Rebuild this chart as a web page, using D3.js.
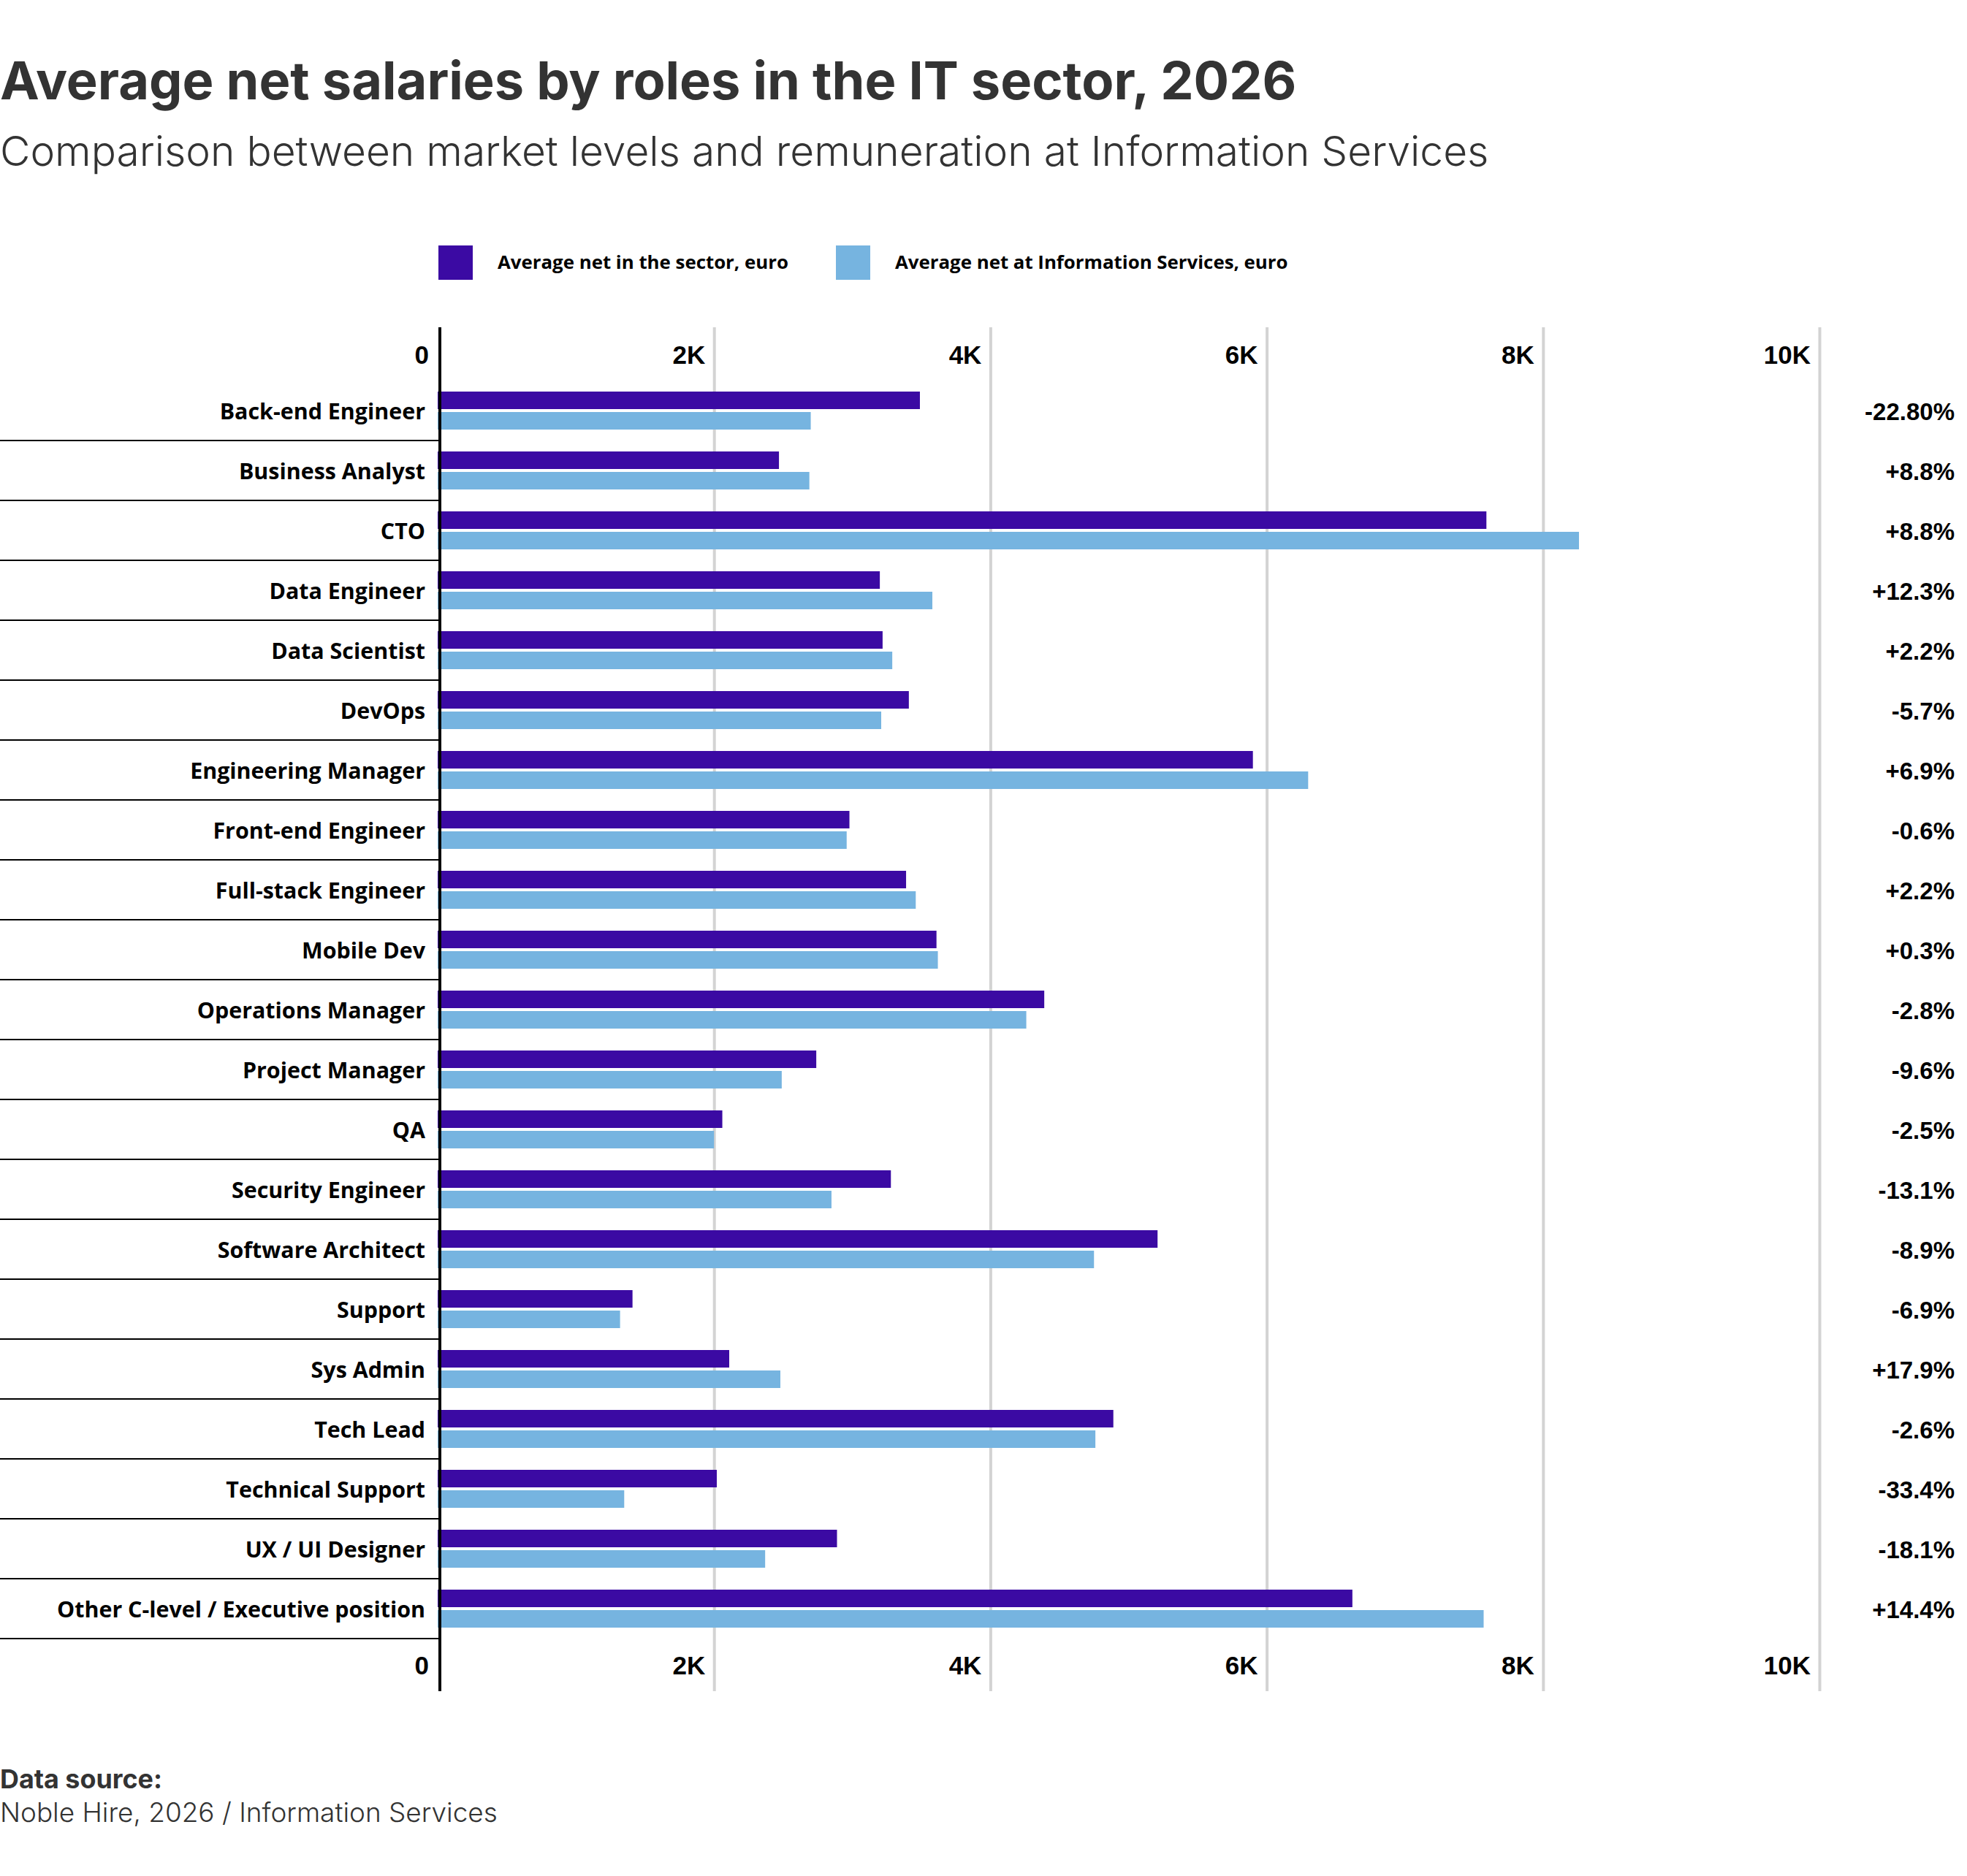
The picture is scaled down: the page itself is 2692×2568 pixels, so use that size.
<!DOCTYPE html>
<html>
<head>
<meta charset="utf-8">
<script src="https://cdn.jsdelivr.net/npm/d3@7"></script>
<style>
  body { margin: 0; background: #fff; }
  svg { display: block; }
</style>
</head>
<body>
<svg></svg>
<script>
// chart data
const categories = [
  "Back-end Engineer", "Business Analyst", "CTO", "Data Engineer", "Data Scientist",
  "DevOps", "Engineering Manager", "Front-end Engineer", "Full-stack Engineer", "Mobile Dev",
  "Operations Manager", "Project Manager", "QA", "Security Engineer", "Software Architect",
  "Support", "Sys Admin", "Tech Lead", "Technical Support", "UX / UI Designer",
  "Other C-level / Executive position"
];
const sectorValues = [3490, 2470, 7590, 3200, 3220, 3410, 5900, 2980, 3390, 3610,
                      4390, 2740, 2060, 3280, 5210, 1410, 2110, 4890, 2020, 2890, 6620];
const infoValues = [2700, 2690, 8260, 3580, 3290, 3210, 6300, 2960, 3460, 3620,
                    4260, 2490, 2000, 2850, 4750, 1320, 2480, 4760, 1350, 2370, 7570];
const diffLabels = ["-22.80%", "+8.8%", "+8.8%", "+12.3%", "+2.2%", "-5.7%", "+6.9%",
                    "-0.6%", "+2.2%", "+0.3%", "-2.8%", "-9.6%", "-2.5%", "-13.1%",
                    "-8.9%", "-6.9%", "+17.9%", "-2.6%", "-33.4%", "-18.1%", "+14.4%"];
const tickValues = [0, 2000, 4000, 6000, 8000, 10000];
const tickLabels = ["0", "2K", "4K", "6K", "8K", "10K"];
const seriesNames = ["Average net in the sector, euro", "Average net at Information Services, euro"];
const seriesColors = ["#3b0aa3", "#76b4e0"];

const title = "Average net salaries by roles in the IT sector, 2026";
const subtitle = "Comparison between market levels and remuneration at Information Services";

const W = 2692, H = 2568;
const svg = d3.select("svg").attr("width", W).attr("height", H);

// font size that makes a text reach a given width
const ctx = document.createElement("canvas").getContext("2d");
function fitSize(text, family, weight, width) {
  ctx.font = weight + " 100px " + family;
  return 100 * width / ctx.measureText(text).width;
}

const headFont = "Inter, 'Noto Sans', sans-serif";
const labelFont = "'Open Sans', 'Noto Sans', sans-serif";
const numFont = "'Liberation Sans', Arial, sans-serif";

// title + subtitle
svg.append("text")
  .attr("x", 0).attr("y", 136)
  .attr("font-family", headFont).attr("font-weight", 700)
  .attr("font-size", fitSize(title, "Inter", 700, 1777))
  .attr("fill", "#333")
  .text(title);

svg.append("text")
  .attr("x", 0).attr("y", 227)
  .attr("font-family", headFont).attr("font-weight", 300)
  .attr("font-size", fitSize(subtitle, "Inter", 300, 2038))
  .attr("fill", "#333")
  .text(subtitle);

// scales
const x = d3.scaleLinear().domain([0, 10000]).range([599, 2490]);
const y = d3.scaleBand().domain(categories).range([520, 2242]).padding(0);
const inner = d3.scaleBand().domain([0, 1]).range([16, 68]).paddingInner(1 / 7);

const gridTop = 448, gridBottom = 2315;

// legend
const legendFs = fitSize(seriesNames[0], "Open Sans", 700, 398);
const legendX = [600, 1144];
const legend = svg.selectAll(".legend")
  .data(seriesNames)
  .enter().append("g")
  .attr("class", "legend")
  .attr("transform", (d, i) => "translate(" + legendX[i] + ",336)");
legend.append("rect")
  .attr("width", 47).attr("height", 47)
  .attr("fill", (d, i) => seriesColors[i]);
legend.append("text")
  .attr("x", 81).attr("y", 32)
  .attr("font-family", labelFont).attr("font-weight", 700)
  .attr("font-size", legendFs)
  .attr("fill", "#000")
  .text(d => d);

// gridlines
svg.append("g")
  .attr("class", "grid")
  .attr("transform", "translate(0," + gridTop + ")")
  .call(d3.axisBottom(x)
    .tickValues(tickValues.slice(1))
    .tickSize(gridBottom - gridTop)
    .tickFormat(""))
  .call(g => g.select(".domain").remove())
  .call(g => g.selectAll("line").attr("stroke", "#d3d3d3").attr("stroke-width", 4));

// bars
const rows = svg.selectAll(".row")
  .data(categories)
  .enter().append("g")
  .attr("class", "row")
  .attr("transform", d => "translate(0," + y(d) + ")");

rows.append("rect")
  .attr("x", x(0))
  .attr("y", inner(0))
  .attr("width", (d, i) => x(sectorValues[i]) - x(0))
  .attr("height", inner.bandwidth())
  .attr("fill", seriesColors[0]);

rows.append("rect")
  .attr("x", x(0))
  .attr("y", inner(1))
  .attr("width", (d, i) => x(infoValues[i]) - x(0))
  .attr("height", inner.bandwidth())
  .attr("fill", seriesColors[1]);

// row separators
rows.append("line")
  .attr("x1", 0).attr("x2", 602)
  .attr("y1", y.bandwidth() + 1).attr("y2", y.bandwidth() + 1)
  .attr("stroke", "#000").attr("stroke-width", 2);

// category labels
const catFs = fitSize(categories[categories.length - 1], "Open Sans", 700, 504);
rows.append("text")
  .attr("x", 582).attr("y", 54)
  .attr("text-anchor", "end")
  .attr("font-family", labelFont).attr("font-weight", 700)
  .attr("font-size", catFs)
  .attr("fill", "#000")
  .text(d => d);

// difference labels
rows.append("text")
  .attr("x", 2675).attr("y", 55)
  .attr("text-anchor", "end")
  .attr("font-family", numFont).attr("font-weight", 700)
  .attr("font-size", 33)
  .attr("fill", "#000")
  .text((d, i) => diffLabels[i]);

// zero axis line
svg.append("line")
  .attr("x1", 602).attr("x2", 602)
  .attr("y1", gridTop).attr("y2", gridBottom)
  .attr("stroke", "#000").attr("stroke-width", 4);

// tick labels top and bottom
[498, 2292].forEach(base => {
  svg.append("g").selectAll("text")
    .data(tickValues)
    .enter().append("text")
    .attr("x", d => x(d) - 12)
    .attr("y", base)
    .attr("text-anchor", "end")
    .attr("font-family", numFont).attr("font-weight", 700)
    .attr("font-size", 35)
    .attr("fill", "#000")
    .text((d, i) => tickLabels[i]);
});

// source
svg.append("text")
  .attr("x", 0).attr("y", 2448)
  .attr("font-family", headFont).attr("font-weight", 700)
  .attr("font-size", fitSize("Data source:", "Inter", 700, 222))
  .attr("fill", "#333")
  .text("Data source:");

svg.append("text")
  .attr("x", 0).attr("y", 2494)
  .attr("font-family", headFont).attr("font-weight", 300)
  .attr("font-size", fitSize("Noble Hire, 2026 / Information Services", "Inter", 300, 681))
  .attr("fill", "#333")
  .text("Noble Hire, 2026 / Information Services");
</script>
</body>
</html>
